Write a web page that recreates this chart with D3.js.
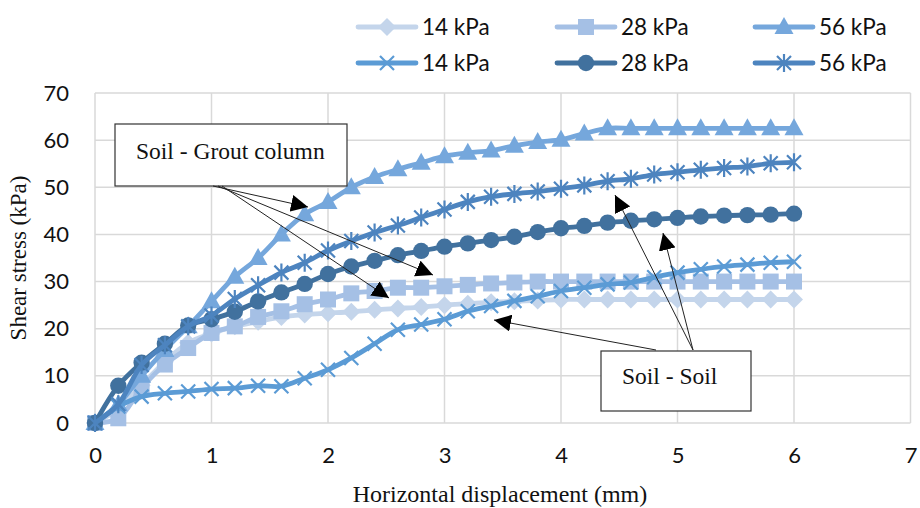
<!DOCTYPE html>
<html>
<head>
<meta charset="utf-8">
<script src="https://cdn.jsdelivr.net/npm/d3@7"></script>
<style>
  html, body { margin: 0; padding: 0; background: #fff; }
  svg { display: block; }
</style>
</head>
<body>
<svg id="chart" width="920" height="508"></svg>
<script>
// Horizontal displacement (mm), sampled every 0.2 mm
const displacement = [0,0.2,0.4,0.6,0.8,1.0,1.2,1.4,1.6,1.8,2.0,2.2,2.4,2.6,2.8,3.0,
  3.2,3.4,3.6,3.8,4.0,4.2,4.4,4.6,4.8,5.0,5.2,5.4,5.6,5.8,6.0];

// Soil - Grout column interface (kPa)
const grout14 = [0,3,8,13,17,19,20.5,21.5,22.5,23,23.3,23.6,24,24.3,24.6,25,
  25.3,25.6,25.8,26,26.2,26.2,26.2,26.2,26.2,26.2,26.2,26.2,26.2,26.2,26.2];
const grout28 = [0,1,7.4,12.4,15.9,19.1,20.5,22.5,23.7,25.2,26.2,27.5,28,28.7,28.7,29,
  29.3,29.6,29.8,30,30,30,30,30,30,30,30,30,30,30,30];
const grout56 = [0,4,10,15.5,20.5,25.8,31,35,40,44.3,46.9,50,52.2,53.8,55.2,56.6,
  57.3,57.8,58.8,59.6,60.1,61.4,62.5,62.5,62.5,62.5,62.5,62.5,62.5,62.5,62.5];

// Soil - Soil interface (kPa)
const soil14 = [0,3.5,5.6,6.3,6.7,7.2,7.4,7.9,7.8,9.5,11.3,13.8,16.8,19.8,20.9,22,
  23.7,24.8,25.9,26.9,28,28.7,29.4,29.8,30.9,31.9,32.6,33.2,33.6,34,34.2];
const soil28 = [0,7.9,12.8,16.8,20.7,22,23.6,25.8,27.7,29.5,31.6,33.2,34.4,35.6,36.5,37.4,
  38.1,38.8,39.5,40.5,41.3,41.8,42.5,42.9,43.2,43.5,43.8,44,44.1,44.2,44.4];
const soil56 = [0,4,12.3,16.5,20.5,22.8,26.3,29.2,31.9,34,36.6,38.6,40.4,41.9,43.6,45.3,
  46.9,48,48.6,49.1,49.7,50.4,51.3,51.8,52.7,53.2,53.7,54.1,54.4,55.1,55.3];

const seriesNames = ["14 kPa","28 kPa","56 kPa","14 kPa","28 kPa","56 kPa"];
const xTicks = [0,1,2,3,4,5,6,7];
const yTicks = [0,10,20,30,40,50,60,70];

const series = [
  { name: seriesNames[0], values: grout14, color: "#c4d5eb", marker: "diamond" },
  { name: seriesNames[1], values: grout28, color: "#a5c0e5", marker: "square" },
  { name: seriesNames[2], values: grout56, color: "#75a7dc", marker: "triangle" },
  { name: seriesNames[3], values: soil14,  color: "#5b9bd5", marker: "cross" },
  { name: seriesNames[4], values: soil28,  color: "#41719e", marker: "circle" },
  { name: seriesNames[5], values: soil56,  color: "#4d84bf", marker: "star" }
];

const svg = d3.select("#chart");
const x = d3.scaleLinear().domain([0, 7]).range([95, 910.5]);
const y = d3.scaleLinear().domain([0, 70]).range([423, 93]);

// gridlines
const grid = svg.append("g");
grid.selectAll("line.h").data(yTicks).join("line")
  .attr("x1", x(0)).attr("x2", x(7))
  .attr("y1", d => y(d)).attr("y2", d => y(d))
  .attr("stroke", "#d9d9d9").attr("stroke-width", 1.5);
grid.selectAll("line.v").data(xTicks).join("line")
  .attr("y1", y(0)).attr("y2", y(70))
  .attr("x1", d => x(d)).attr("x2", d => x(d))
  .attr("stroke", "#d9d9d9").attr("stroke-width", 1.5);

// axes (labels only; the grid carries the lines)
const tickFont = "Lato, 'Open Sans', sans-serif";
const xAxis = svg.append("g").attr("transform", `translate(0,${y(0)})`)
  .call(d3.axisBottom(x).tickValues(xTicks).tickFormat(d3.format("d")).tickSize(0).tickPadding(24));
const yAxis = svg.append("g").attr("transform", `translate(${x(0)},0)`)
  .call(d3.axisLeft(y).tickValues(yTicks).tickFormat(d3.format("d")).tickSize(0).tickPadding(26));
[xAxis, yAxis].forEach(a => {
  a.select(".domain").remove();
  a.selectAll("text").attr("font-family", tickFont).attr("font-size", 22).attr("fill", "#111");
});

// axis titles
const serif = "'Liberation Serif', 'Times New Roman', serif";
svg.append("text").attr("x", 500).attr("y", 502).attr("text-anchor", "middle")
  .attr("font-family", serif).attr("font-size", 24)
  .attr("fill", "#111").text("Horizontal displacement (mm)");
svg.append("text").attr("transform", `translate(26,${y(35)}) rotate(-90)`)
  .attr("text-anchor", "middle")
  .attr("font-family", serif).attr("font-size", 23)
  .attr("fill", "#111").text("Shear stress (kPa)");

// marker shapes
function markerPath(type) {
  switch (type) {
    case "diamond": return "M0,-9L9,0L0,9L-9,0Z";
    case "square": return "M-8,-8H8V8H-8Z";
    case "triangle": return "M0,-10L9.5,7H-9.5Z";
    case "circle": return d3.symbol(d3.symbolCircle, 210)();
    case "cross": return "M-7,-7L7,7M7,-7L-7,7";
    case "star": return "M-7,-7L7,7M7,-7L-7,7M0,-9V9";
  }
}
function drawMarker(sel, s) {
  const open = s.marker === "cross" || s.marker === "star";
  sel.append("path").attr("d", markerPath(s.marker))
    .attr("fill", open ? "none" : s.color)
    .attr("stroke", s.color)
    .attr("stroke-width", open ? 2.2 : 0);
}

const line = d3.line().x((d, i) => x(displacement[i])).y(d => y(d)).curve(d3.curveCatmullRom);

const plot = svg.append("g");
series.forEach(s => {
  const g = plot.append("g");
  g.append("path").attr("d", line(s.values)).attr("fill", "none")
    .attr("stroke", s.color).attr("stroke-width", 4.8).attr("stroke-linejoin", "round");
  g.selectAll("g.m").data(s.values).join("g")
    .attr("transform", (d, i) => `translate(${x(displacement[i])},${y(d)})`)
    .each(function () { drawMarker(d3.select(this), s); });
});

// legend
const legendCols = [358, 557, 755];
const legendRows = [27, 63];
series.forEach((s, i) => {
  const lx = legendCols[i % 3], ly = legendRows[Math.floor(i / 3)];
  const g = svg.append("g").attr("transform", `translate(${lx},${ly})`);
  g.append("line").attr("x1", 0).attr("x2", 58).attr("stroke", s.color)
    .attr("stroke-width", 4.8).attr("stroke-linecap", "round");
  const m = g.append("g").attr("transform", "translate(29,0)");
  drawMarker(m, s);
  g.append("text").attr("x", 64).attr("y", 8).attr("font-family", tickFont)
    .attr("font-size", 22.5).attr("fill", "#111").text(s.name);
});

// annotations
const defs = svg.append("defs");
defs.append("marker").attr("id", "head").attr("viewBox", "0 0 10 10")
  .attr("refX", 10).attr("refY", 5).attr("markerWidth", 17).attr("markerHeight", 17)
  .attr("markerUnits", "userSpaceOnUse").attr("orient", "auto")
  .append("path").attr("d", "M0,0L10,5L0,10Z").attr("fill", "#000");

function arrow(x1, y1, x2, y2) {
  svg.append("line").attr("x1", x1).attr("y1", y1).attr("x2", x2).attr("y2", y2)
    .attr("stroke", "#222").attr("stroke-width", 1).attr("marker-end", "url(#head)");
}
function box(x0, y0, w, h, label, tx, ty) {
  svg.append("rect").attr("x", x0).attr("y", y0).attr("width", w).attr("height", h)
    .attr("fill", "#fff").attr("stroke", "#333").attr("stroke-width", 1.2);
  svg.append("text").attr("x", tx).attr("y", ty)
    .attr("font-family", serif).attr("font-size", 23.5)
    .attr("fill", "#111").text(label);
}

box(115, 124, 232, 62, "Soil - Grout column", 136, 159);
arrow(213, 186, 308, 207);
arrow(218, 186, 433, 275);
arrow(222, 186, 389, 298);

box(601, 351, 150, 60, "Soil - Soil", 622, 384);
arrow(656, 350, 494, 320);
arrow(693, 350, 615, 195);
arrow(693, 350, 663, 233);
</script>
</body>
</html>
